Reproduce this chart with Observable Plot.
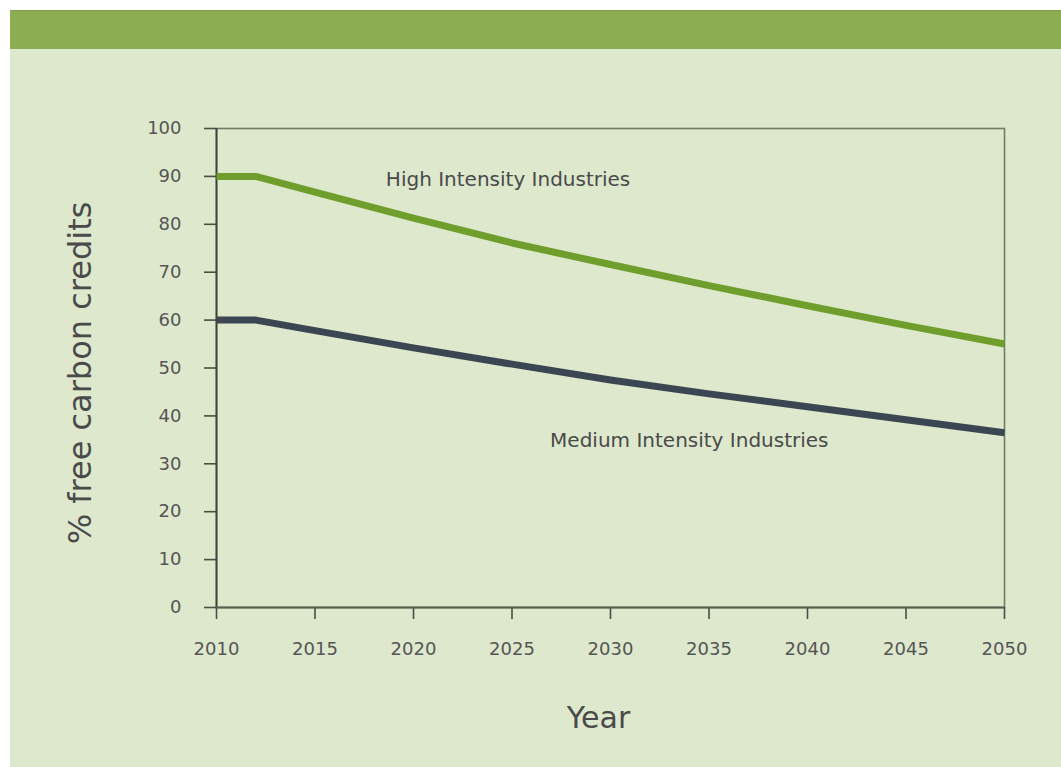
<!DOCTYPE html>
<html>
<head>
<meta charset="utf-8">
<script src="https://cdn.jsdelivr.net/npm/d3@7"></script>
<script src="https://cdn.jsdelivr.net/npm/@observablehq/plot@0.6"></script>
<style>
  html, body { margin: 0; padding: 0; background: #ffffff; width: 1061px; height: 767px; overflow: hidden; }
  #bg { position: absolute; left: 10px; top: 10px; right: 0; bottom: 0; background: #dde8cd; }
  #band { position: absolute; left: 10px; top: 10px; right: 0; height: 39px; background: #8cae50; border-top: 1px solid #7e9a55; box-sizing: border-box; }
  #chart { position: absolute; left: 0; top: 0; }
</style>
</head>
<body>
<div id="bg"></div>
<div id="band"></div>
<div id="chart"></div>
<script>
// Data
const years = [2010, 2012, 2015, 2020, 2025, 2030, 2035, 2040, 2045, 2050];
const highIntensity = [90, 90, 86.7, 81.3, 76.1, 71.6, 67.2, 63.0, 58.9, 55.0];
const mediumIntensity = [60, 60, 57.8, 54.2, 50.8, 47.5, 44.6, 41.9, 39.2, 36.5];

const seriesNames = ["High Intensity Industries", "Medium Intensity Industries"];
const seriesColors = ["#6f9e2c", "#3c4652"];

// Annotation anchors (year, value) for the in-chart series labels
const labelYears = [2024.8, 2034.0];
const labelValues = [89.3, 34.9];

const xTicks = [2010, 2015, 2020, 2025, 2030, 2035, 2040, 2045, 2050];
const yTicks = [0, 10, 20, 30, 40, 50, 60, 70, 80, 90, 100];

const xTitle = "Year";
const yTitle = "% free carbon credits";

const highRows = years.map((year, i) => ({year, value: highIntensity[i]}));
const mediumRows = years.map((year, i) => ({year, value: mediumIntensity[i]}));
const labelRows = seriesNames.map((name, i) => ({name, year: labelYears[i], value: labelValues[i]}));

const plot = Plot.plot({
  width: 1061,
  height: 767,
  marginLeft: 216,
  marginRight: 57,
  marginTop: 128,
  marginBottom: 160,
  style: {background: "transparent", fontFamily: "DejaVu Sans", fontSize: "18px", color: "#555"},
  x: {domain: [2010, 2050]},
  y: {domain: [0, 100]},
  marks: [
    Plot.frame({stroke: "#6f7e62", strokeWidth: 1.6}),
    Plot.axisY({ticks: yTicks, tickSize: 12, tickPadding: 23, tickFormat: "d", label: null,
      fontSize: 18, fill: "#555", stroke: "#4a4f45", strokeWidth: 1.6}),
    Plot.axisX({ticks: xTicks, tickSize: 12, tickPadding: 23, tickFormat: "d", label: null,
      fontSize: 18, fill: "#555", stroke: "#4a4f45", strokeWidth: 1.6}),
    Plot.ruleX([2010], {stroke: "#3b4136", strokeWidth: 1.8}),
    Plot.ruleY([0], {stroke: "#56604c", strokeWidth: 2}),
    Plot.line(highRows, {x: "year", y: "value", stroke: seriesColors[0], strokeWidth: 7, strokeLinejoin: "round", strokeLinecap: "butt"}),
    Plot.line(mediumRows, {x: "year", y: "value", stroke: seriesColors[1], strokeWidth: 7, strokeLinejoin: "round", strokeLinecap: "butt"}),
    Plot.text(labelRows, {x: "year", y: "value", text: "name", fontSize: 20, fill: "#4a4a4a", textAnchor: "middle", lineAnchor: "middle"}),
    Plot.text([xTitle], {text: d => d, frameAnchor: "bottom", textAnchor: "middle", lineAnchor: "bottom", dy: 120, dx: -12, fontSize: 30, fill: "#4a4a4a"}),
    Plot.text([yTitle], {text: d => d, frameAnchor: "left", rotate: -90, textAnchor: "middle", lineAnchor: "top", dx: -148, dy: 5, fontSize: 32, fill: "#4a4a4a"})
  ]
});
document.getElementById("chart").appendChild(plot);
</script>
</body>
</html>
